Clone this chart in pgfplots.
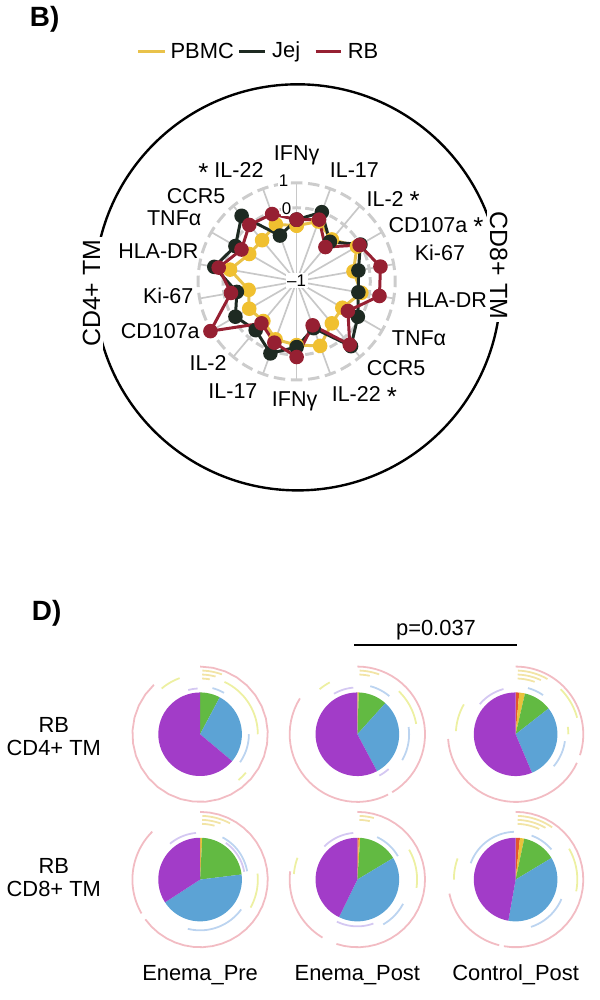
\documentclass[border=0pt]{standalone}
\usepackage{pgfplots}
\pgfplotsset{compat=1.18}
\usepackage{pgfplotstable}
\usepackage{fontspec}
\setmainfont{Liberation Sans}

\definecolor{cpb}{HTML}{F0C030}
\definecolor{cpbl}{HTML}{E9C24A}
\definecolor{cjj}{HTML}{1E2A22}
\definecolor{crb}{HTML}{962032}
\definecolor{cgrid}{HTML}{C8C8C8}
\definecolor{cring}{HTML}{CCCCCC}
\definecolor{ppur}{HTML}{A23CC8}
\definecolor{pblu}{HTML}{5CA3D5}
\definecolor{pgrn}{HTML}{62BA42}
\definecolor{pyel}{HTML}{E9C23C}
\definecolor{porg}{HTML}{E4562C}
\definecolor{apink}{HTML}{F2BCC3}
\definecolor{ayel}{HTML}{EDF0A2}
\definecolor{abeige}{HTML}{F2E4A6}
\definecolor{ablu}{HTML}{BCD4F0}
\definecolor{alav}{HTML}{D4C8F2}

% radar values (scale: -1 ... 1), angle of each spoke in degrees
\pgfplotstableread{
ang  pbmc  jej   rb
90   -0.72 -0.48 -0.48
70   -0.40  0.00 -0.32
50   -0.76 -0.88 -1.16
30   -0.16  0.00 -0.04
10   -0.64 -0.44  0.46
-10  -0.32 -0.44  0.42
-30  -0.84 -0.12 -0.58
-50  -0.76  0.44  0.36
-70  -0.20 -0.96 -1.08
-90  -0.40 -0.32  0.08
-110 -0.48  0.12 -0.34
-130 -0.88 -0.40 -0.76
-150 -0.76 -0.12  1.04
-170 -1.00 -0.52 -0.28
-190 -0.24  0.40  0.22
-210 -0.76 -0.12 -0.40
-230 -0.80  0.48  0.00
-250 -0.52 -1.00 -0.08
-270 -0.72 -0.48 -0.48
}\radar

\newcommand\lab{\fontsize{10.8}{12.5}\selectfont}
\newcommand\st{\raisebox{-0.3ex}{\fontsize{13}{13}\selectfont *}}
% pie wedge: cx, cy, start, end, colour
\newcommand\pw[5]{\addplot[fill=#5, draw=none, domain=#3:#4, samples=40, variable=\t] ({#1+42*cos(\t)},{#2+42*sin(\t)}) -- (axis cs:#1,#2) -- cycle;}
% arc: cx, cy, r, start, end, colour
\newcommand\sa[6]{\addplot[#6, line width=0.9pt, domain=#4:#5, samples=30, variable=\t] ({#1+#3*cos(\t)},{#2+#3*sin(\t)});}

\begin{document}
\begin{tikzpicture}
\begin{axis}[width=297pt, height=500pt, scale only axis, xmin=0, xmax=594, ymin=0, ymax=1000, hide axis, clip=false]
\path (axis cs:0,0) rectangle (axis cs:594,1000);

% ---------------- panel B ----------------
\node[anchor=west, font=\bfseries\fontsize{14}{16}\selectfont] at (axis cs:15,985) {B)};

% legend
\addplot[cpbl, line width=1.6pt, forget plot] coordinates {(131,953) (158,953)};
\addplot[cjj, line width=1.6pt, forget plot] coordinates {(232,953) (258,953)};
\addplot[crb, line width=1.6pt, forget plot] coordinates {(309,953) (335,953)};
\node[anchor=west, inner sep=0pt, font=\fontsize{11}{13}\selectfont] at (axis cs:163,953) {PBMC};
\node[anchor=west, inner sep=0pt, font=\fontsize{11}{13}\selectfont] at (axis cs:265,953) {Jej};
\node[anchor=west, inner sep=0pt, font=\fontsize{11}{13}\selectfont] at (axis cs:341,953) {RB};

% outer circle
\draw[line width=1.2pt] (axis cs:291,716) circle[radius=102pt];
\node[rotate=-90, fill=white, inner sep=1.5pt, font=\fontsize{12.5}{14}\selectfont] at (axis cs:493,738) {CD8+ TM};
\node[rotate=90, fill=white, inner sep=1.5pt, font=\fontsize{12.5}{14}\selectfont] at (axis cs:84,710) {CD4+ TM};

% radar grid
\pgfplotsinvokeforeach{90,70,50,30,10,-10,-30,-50,-70,-90,-110,-130,-150,-170,-190,-210,-230,-250}{
  \draw[cgrid, line width=0.85pt] (axis cs:290,722) -- (axis cs:{290+99*cos(#1)},{722+99*sin(#1)});
}
\draw[cring, line width=1.5pt, dash pattern=on 5.8pt off 2.839pt, dash phase=2.9pt] (axis cs:290,722) circle[radius=49.5pt];
\draw[cring, line width=1.5pt, dash pattern=on 4.3pt off 2.158pt, dash phase=2.15pt] (axis cs:290,722) circle[radius=37pt];

% radar data
\addplot[cpbl, line width=1.5pt, mark=*, mark size=2.9pt, mark options={solid, fill=cpb, draw=cpb}] table[x expr={290+25*(\thisrow{pbmc}+2.96)*cos(\thisrow{ang})}, y expr={722+25*(\thisrow{pbmc}+2.96)*sin(\thisrow{ang})}] {\radar};
\addplot[cjj, line width=1.5pt, mark=*, mark size=2.9pt, mark options={solid, fill=cjj, draw=cjj}] table[x expr={290+25*(\thisrow{jej}+2.96)*cos(\thisrow{ang})}, y expr={722+25*(\thisrow{jej}+2.96)*sin(\thisrow{ang})}] {\radar};
\addplot[crb, line width=1.5pt, mark=*, mark size=2.9pt, mark options={solid, fill=crb, draw=crb}] table[x expr={290+25*(\thisrow{rb}+2.96)*cos(\thisrow{ang})}, y expr={722+25*(\thisrow{rb}+2.96)*sin(\thisrow{ang})}] {\radar};

% scale labels
\node[fill=white, inner sep=0.8pt, font=\fontsize{8.5}{9}\selectfont] at (axis cs:290,723) {–1};
\node[fill=white, inner sep=0.5pt, font=\fontsize{8.5}{9}\selectfont] at (axis cs:280,795) {0};
\node[fill=white, inner sep=0.5pt, font=\fontsize{8.5}{9}\selectfont] at (axis cs:277,823) {1};

% spoke labels
\node[font=\lab] at (axis cs:290,849) {IFNγ};
\node[font=\lab] at (axis cs:348,834) {IL-17};
\node[font=\lab] at (axis cs:387,803) {IL-2 \st};
\node[font=\lab] at (axis cs:430,777) {CD107a \st};
\node[font=\lab] at (axis cs:434,751) {Ki-67};
\node[font=\lab] at (axis cs:441,703) {HLA-DR};
\node[font=\lab] at (axis cs:413,665) {TNFα};
\node[font=\lab] at (axis cs:390,635) {CCR5};
\node[font=\lab] at (axis cs:358,607) {IL-22 \st};
\node[font=\lab] at (axis cs:288,601) {IFNγ};
\node[font=\lab] at (axis cs:226,612) {IL-17};
\node[font=\lab] at (axis cs:201,640) {IL-2};
\node[font=\lab] at (axis cs:153,672) {CD107a};
\node[font=\lab] at (axis cs:161,707) {Ki-67};
\node[font=\lab] at (axis cs:151,752) {HLA-DR};
\node[font=\lab] at (axis cs:167,785) {TNFα};
\node[font=\lab] at (axis cs:189,808) {CCR5};
\node[font=\lab] at (axis cs:224,832) {\st\ IL-22};

% ---------------- panel D ----------------
\node[anchor=west, font=\bfseries\fontsize{14}{16}\selectfont] at (axis cs:17,389) {D)};
\node[font=\fontsize{11}{13}\selectfont] at (axis cs:430,372) {p=0.037};
\draw[line width=1pt] (axis cs:348,357) -- (axis cs:511,357);

\node[align=center, font=\fontsize{11}{11.5}\selectfont] at (axis cs:46,265) {RB\\CD4+ TM};
\node[align=center, font=\fontsize{11}{11.5}\selectfont] at (axis cs:46,123) {RB\\CD8+ TM};
\node[font=\fontsize{11}{13}\selectfont] at (axis cs:193,25) {Enema\_Pre};
\node[font=\fontsize{11}{13}\selectfont] at (axis cs:351,25) {Enema\_Post};
\node[font=\fontsize{11}{13}\selectfont] at (axis cs:510,25) {Control\_Post};

% pie 1: Enema_Pre CD4
\pw{193}{267}{62}{90}{pgrn}
\pw{193}{267}{-40}{62}{pblu}
\pw{193}{267}{-270}{-40}{ppur}
\sa{193}{267}{68}{-227}{90}{apink}
\sa{193}{267}{60}{110}{130}{ayel}
\sa{193}{267}{58}{0}{65}{ayel}
\sa{193}{267}{49}{-35}{0}{ablu}
\sa{193}{267}{48}{60}{75}{ablu}
\sa{193}{267}{46}{93}{105}{alav}
\sa{193}{267}{64}{70}{88}{abeige}
\sa{193}{267}{60}{75}{88}{abeige}
\sa{193}{267}{56}{80}{88}{abeige}
\sa{193}{267}{60}{-50}{-40}{ayel}

% pie 2: Enema_Post CD4
\pw{351}{267}{88}{90}{pyel}
\pw{351}{267}{48}{88}{pgrn}
\pw{351}{267}{-62}{48}{pblu}
\pw{351}{267}{-270}{-62}{ppur}
\sa{351}{267}{68}{-212}{-63}{apink}
\sa{351}{267}{68}{-59}{90}{apink}
\sa{351}{267}{60}{10}{46}{ayel}
\sa{351}{267}{59}{118}{130}{ayel}
\sa{351}{267}{52}{-30}{8}{ablu}
\sa{351}{267}{47}{-62}{-48}{alav}
\sa{351}{267}{47}{95}{120}{alav}
\sa{351}{267}{50}{50}{75}{ablu}
\sa{351}{267}{64}{70}{88}{abeige}
\sa{351}{267}{60}{78}{88}{abeige}

% pie 3: Control_Post CD4
\pw{510}{267}{85}{90}{porg}
\pw{510}{267}{77}{85}{pyel}
\pw{510}{267}{38}{77}{pgrn}
\pw{510}{267}{-67}{38}{pblu}
\pw{510}{267}{-270}{-67}{ppur}
\sa{510}{267}{68}{-176}{-25}{apink}
\sa{510}{267}{68}{-18}{90}{apink}
\sa{510}{267}{64}{15}{45}{ayel}
\sa{510}{267}{53}{0}{8}{ayel}
\sa{510}{267}{60}{150}{177}{ayel}
\sa{510}{267}{50}{-40}{-8}{ablu}
\sa{510}{267}{47}{105}{140}{alav}
\sa{510}{267}{48}{55}{75}{ablu}
\sa{510}{267}{64}{60}{88}{abeige}
\sa{510}{267}{60}{65}{88}{abeige}
\sa{510}{267}{56}{70}{88}{abeige}

% pie 4: Enema_Pre CD8
\pw{193}{121}{87}{90}{pyel}
\pw{193}{121}{7}{87}{pgrn}
\pw{193}{121}{-147}{7}{pblu}
\pw{193}{121}{-270}{-147}{ppur}
\sa{193}{121}{68}{135}{210}{apink}
\sa{193}{121}{68}{-144}{90}{apink}
\sa{193}{121}{48}{10}{62}{ablu}
\sa{193}{121}{45}{10}{55}{alav}
\sa{193}{121}{47}{95}{130}{alav}
\sa{193}{121}{51}{-104}{-36}{ablu}
\sa{193}{121}{58}{-29}{6}{ayel}
\sa{193}{121}{64}{62}{88}{abeige}
\sa{193}{121}{60}{70}{88}{abeige}
\sa{193}{121}{56}{75}{88}{abeige}

% pie 5: Enema_Post CD8
\pw{351}{121}{88}{90}{porg}
\pw{351}{121}{86}{88}{pyel}
\pw{351}{121}{31}{86}{pgrn}
\pw{351}{121}{-116}{31}{pblu}
\pw{351}{121}{-270}{-116}{ppur}
\sa{351}{121}{68}{-108}{90}{apink}
\sa{351}{121}{68}{173}{239}{apink}
\sa{351}{121}{60}{-8}{30}{ayel}
\sa{351}{121}{64}{160}{175}{ayel}
\sa{351}{121}{52}{-60}{-28}{ablu}
\sa{351}{121}{47}{-116}{-70}{alav}
\sa{351}{121}{47}{95}{135}{alav}
\sa{351}{121}{47}{30}{65}{ablu}
\sa{351}{121}{64}{75}{88}{abeige}
\sa{351}{121}{60}{78}{88}{abeige}

% pie 6: Control_Post CD8
\pw{510}{121}{84}{90}{porg}
\pw{510}{121}{78}{84}{pyel}
\pw{510}{121}{31}{78}{pgrn}
\pw{510}{121}{-100}{31}{pblu}
\pw{510}{121}{-270}{-100}{ppur}
\sa{510}{121}{68}{-100}{90}{apink}
\sa{510}{121}{68}{-168}{-104}{apink}
\sa{510}{121}{62}{-11}{30}{ayel}
\sa{510}{121}{62}{160}{180}{ayel}
\sa{510}{121}{50}{-72}{-23}{ablu}
\sa{510}{121}{48}{92}{160}{ablu}
\sa{510}{121}{47}{40}{70}{ablu}
\sa{510}{121}{64}{55}{88}{abeige}
\sa{510}{121}{60}{60}{88}{abeige}
\sa{510}{121}{56}{65}{88}{abeige}
\end{axis}
\end{tikzpicture}
\end{document}
